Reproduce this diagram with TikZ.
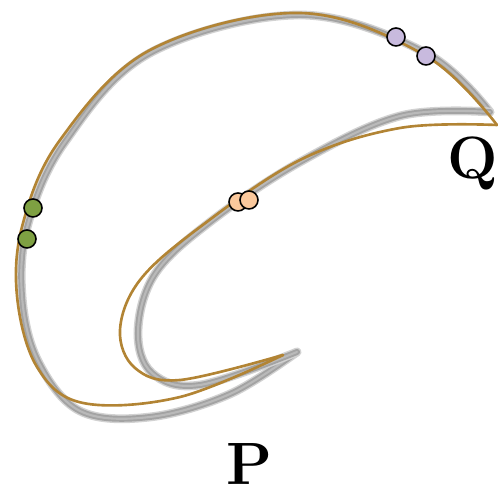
\documentclass[tikz,border=0pt]{standalone}
\usepackage{tikz}
\usetikzlibrary{positioning}

\definecolor{curvegold}{RGB}{178,132,52}
\definecolor{ptpurple}{RGB}{200,186,222}
\definecolor{ptgreen}{RGB}{126,160,66}
\definecolor{ptorange}{RGB}{250,200,156}

\begin{document}
\begin{tikzpicture}[x=0.02cm, y=0.02cm,
    grayband/.style={draw=gray!35, line width=5pt, line cap=round,
        postaction={draw=gray!72, line width=3.4pt},
        postaction={draw=gray!55, line width=1.2pt}},
    goldline/.style={draw=curvegold, line width=1.5pt, line cap=round},
    marker/.style={circle, draw=black, line width=0.9pt, minimum size=0.36cm, inner sep=0pt},
    letter/.style={font=\fontsize{34}{40}\selectfont\bfseries, inner sep=0pt}]

    \useasboundingbox (0,0) rectangle (498,496);

    % --- Gray curves (outer arc and inner arc) ---
    \draw[grayband] plot[smooth, tension=0.6] coordinates {
        (490,384) (426,443) (300,481) (150,443) (65,354) (28,272) (22,200)
        (38,135) (80,85) (150,79) (230,102) (297,144)};
    \draw[grayband] plot[smooth, tension=0.6] coordinates {
        (297,144) (200,111) (152,123) (138,165) (155,222) (210,274)
        (300,334) (400,380) (490,384)};

    % --- Golden curves ---
    \draw[goldline] plot[smooth, tension=0.6] coordinates {
        (497,371) (426,440) (300,483) (150,446) (60,356) (23,273) (17,200)
        (37,129) (83,93) (180,99) (283,141)};
    \draw[goldline] plot[smooth, tension=0.6] coordinates {
        (283,141) (180,116) (135,128) (120,166) (140,216) (200,269)
        (300,336) (400,368) (497,371)};

    % --- Marked points ---
    \node[marker, fill=ptpurple] (pa) at (396,459) {};
    \node[marker, fill=ptpurple] (pb) at (426,440) {};
    \node[marker, fill=ptgreen] (ga) at (27,257) {};
    \node[marker, fill=ptgreen] (gb) at (33,288) {};
    \node[marker, fill=ptorange] (oa) at (238,294) {};
    \node[marker, fill=ptorange] (ob) at (249,296) {};

    % --- Labels ---
    \node[letter] (labelQ) at (473,333) {Q};
    \node[letter] (labelP) at (249,32) {P};

\end{tikzpicture}
\end{document}
